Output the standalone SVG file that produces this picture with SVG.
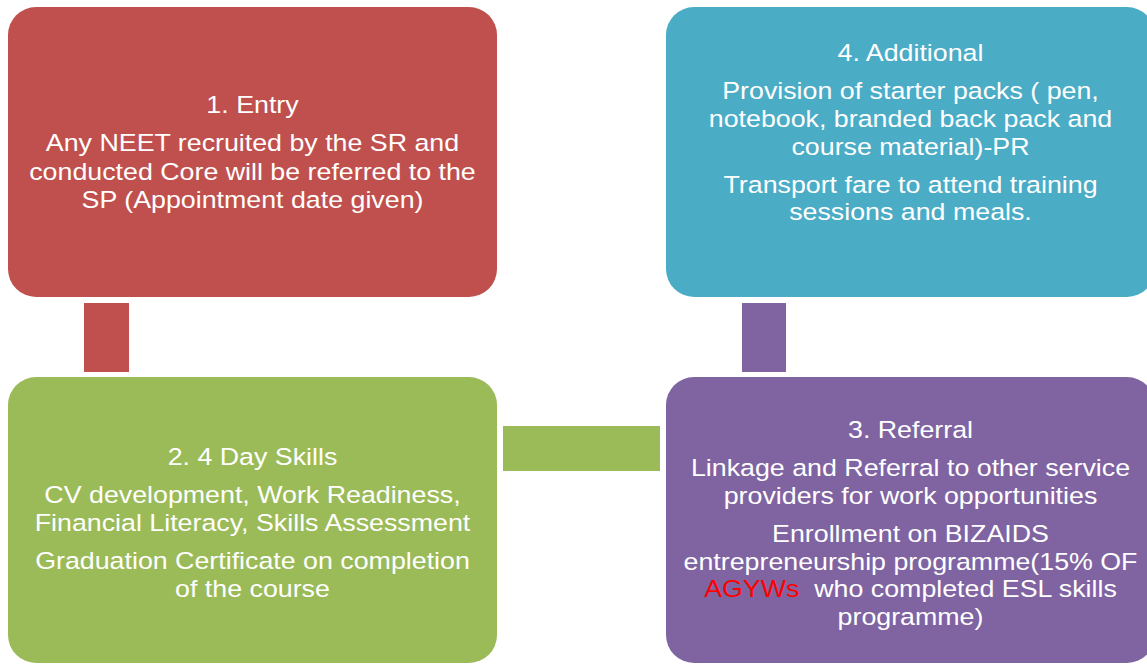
<svg xmlns="http://www.w3.org/2000/svg" width="1147" height="664" viewBox="0 0 1147 664">
<style>
.t{font-family:"Liberation Sans",Arial,sans-serif;font-size:23.5px;fill:#ffffff;text-anchor:middle}
.red{fill:#FF0000}
</style>
<rect width="1147" height="664" fill="#ffffff"/>
<g id="connectors">
<rect x="84" y="303" width="45" height="69" fill="#C0504D"/>
<rect x="503" y="426" width="157" height="45" fill="#9BBB59"/>
<rect x="742" y="303" width="44" height="69" fill="#8064A2"/>
</g>
<g id="node1">
<rect x="8" y="7" width="489" height="290" rx="28" fill="#C0504D"/>
<g transform="translate(252.5 0) scale(1.14 1)">
<text class="t" x="0" y="113">1. Entry</text>
<text class="t" x="0" y="151">Any NEET recruited by the SR and</text>
<text class="t" x="0" y="180">conducted Core will be referred to the</text>
<text class="t" x="0" y="208">SP (Appointment date given)</text>
</g>
</g>
<g id="node4">
<rect x="666" y="7" width="489" height="290" rx="28" fill="#4BACC6"/>
<g transform="translate(910.5 0) scale(1.14 1)">
<text class="t" x="0" y="61">4. Additional</text>
<text class="t" x="0" y="99">Provision of starter packs ( pen,</text>
<text class="t" x="0" y="127">notebook, branded back pack and</text>
<text class="t" x="0" y="155">course material)-PR</text>
<text class="t" x="0" y="193">Transport fare to attend training</text>
<text class="t" x="0" y="220">sessions and meals.</text>
</g>
</g>
<g id="node2">
<rect x="8" y="377" width="489" height="286" rx="28" fill="#9BBB59"/>
<g transform="translate(252.5 0) scale(1.14 1)">
<text class="t" x="0" y="465">2. 4 Day Skills</text>
<text class="t" x="0" y="503">CV development, Work Readiness,</text>
<text class="t" x="0" y="531">Financial Literacy, Skills Assessment</text>
<text class="t" x="0" y="569">Graduation Certificate on completion</text>
<text class="t" x="0" y="597">of the course</text>
</g>
</g>
<g id="node3">
<rect x="666" y="377" width="489" height="286" rx="28" fill="#8064A2"/>
<g transform="translate(910.5 0) scale(1.14 1)">
<text class="t" x="0" y="438">3. Referral</text>
<text class="t" x="0" y="476">Linkage and Referral to other service</text>
<text class="t" x="0" y="504">providers for work opportunities</text>
<text class="t" x="0" y="542">Enrollment on BIZAIDS</text>
<text class="t" x="0" y="570">entrepreneurship programme(15% OF</text>
<text class="t" x="0" y="597" xml:space="preserve"><tspan class="red">AGYWs</tspan>  who completed ESL skills</text>
<text class="t" x="0" y="625">programme)</text>
</g>
</g>
</svg>
